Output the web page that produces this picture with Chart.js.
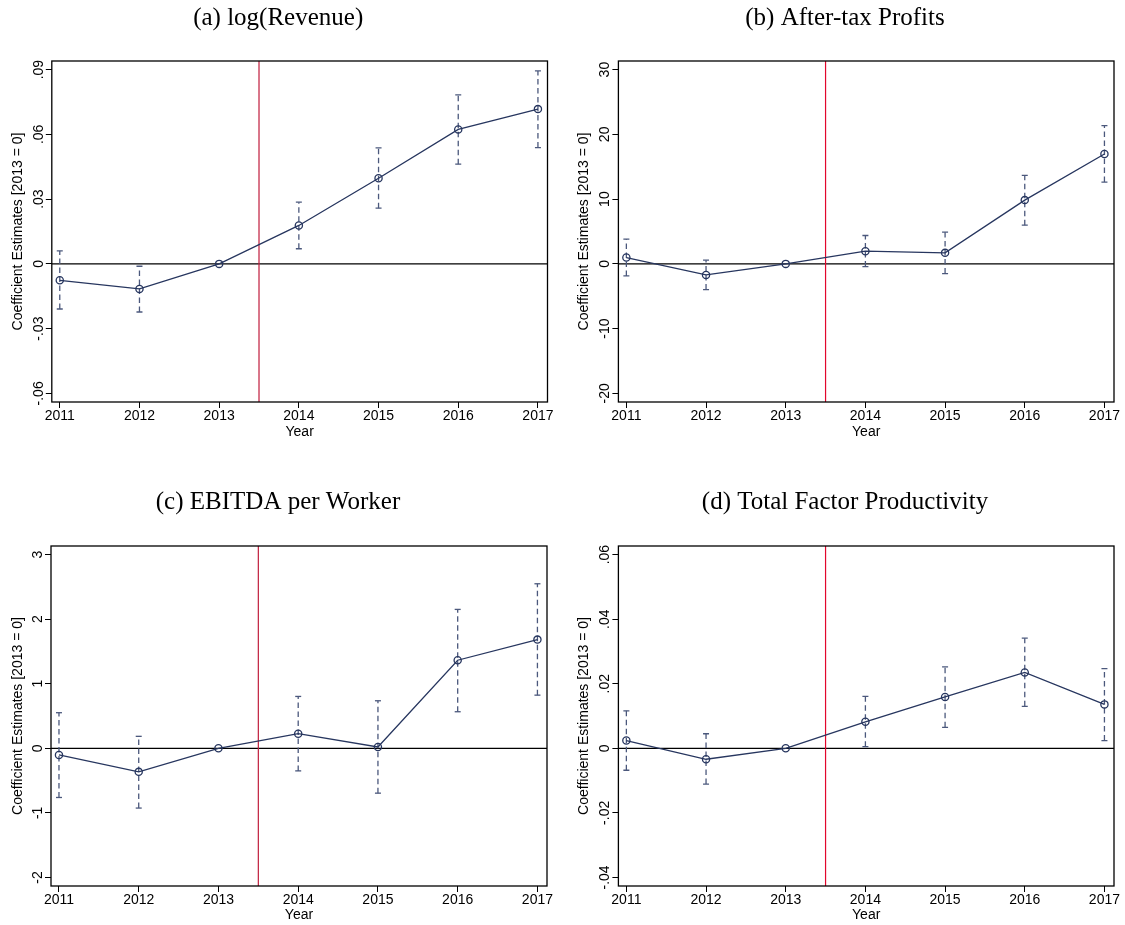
<!DOCTYPE html>
<html>
<head>
<meta charset="utf-8">
<title>Event study estimates</title>
<script src="https://cdn.jsdelivr.net/npm/chart.js"></script>
<style>
  body { margin: 0; background: #fff; }
  canvas { position: absolute; }
</style>
</head>
<body>
<canvas id="chartA" width="565" height="450" style="left:0;top:0"></canvas>
<canvas id="chartB" width="560" height="450" style="left:565px;top:0"></canvas>
<canvas id="chartC" width="565" height="475" style="left:0;top:450px"></canvas>
<canvas id="chartD" width="560" height="475" style="left:565px;top:450px"></canvas>
<script>
// Years on the x axis and the treatment cut-off
const years = [2011, 2012, 2013, 2014, 2015, 2016, 2017];
const eventYear = 2013.5;

// (a) log(Revenue)
const revenueCoef = [-0.0076, -0.0116, 0, 0.0178, 0.0397, 0.0623, 0.0717];
const revenueLow = [-0.0209, -0.0223, 0, 0.0070, 0.0258, 0.0462, 0.0539];
const revenueHigh = [0.0060, -0.0011, 0, 0.0286, 0.0537, 0.0783, 0.0894];
const revenueTicks = [-0.06, -0.03, 0, 0.03, 0.06, 0.09];
const revenueTickLabels = ['-.06', '-.03', '0', '.03', '.06', '.09'];

// (b) After-tax Profits
const profitCoef = [0.98, -1.70, 0, 1.96, 1.70, 9.85, 16.96];
const profitLow = [-1.86, -3.97, 0, -0.41, -1.49, 5.98, 12.63];
const profitHigh = [3.81, 0.57, 0, 4.38, 4.90, 13.66, 21.34];
const profitTicks = [-20, -10, 0, 10, 20, 30];
const profitTickLabels = ['-20', '-10', '0', '10', '20', '30'];

// (c) EBITDA per Worker
const ebitdaCoef = [-0.103, -0.365, 0, 0.226, 0.021, 1.364, 1.683];
const ebitdaLow = [-0.762, -0.926, 0, -0.350, -0.695, 0.566, 0.823];
const ebitdaHigh = [0.551, 0.185, 0, 0.803, 0.736, 2.151, 2.548];
const ebitdaTicks = [-2, -1, 0, 1, 2, 3];
const ebitdaTickLabels = ['-2', '-1', '0', '1', '2', '3'];

// (d) Total Factor Productivity
const tfpCoef = [0.0024, -0.0034, 0, 0.0082, 0.0159, 0.0235, 0.0136];
const tfpLow = [-0.0068, -0.0111, 0, 0.0005, 0.0065, 0.0130, 0.0024];
const tfpHigh = [0.0116, 0.0045, 0, 0.0161, 0.0252, 0.0341, 0.0247];
const tfpTicks = [-0.04, -0.02, 0, 0.02, 0.04, 0.06];
const tfpTickLabels = ['-.04', '-.02', '0', '.02', '.04', '.06'];

const NAVY = '#27365f';
const CI_COLOR = '#4b587c';
const SANS = 'Liberation Sans, Arial, sans-serif';
const SERIF = 'Liberation Serif, Times New Roman, serif';

// Zero line, event line, frame and rotated y labels
const stataDecor = {
  id: 'stataDecor',
  beforeDatasetsDraw(chart, args, opts) {
    const { ctx, chartArea: a, scales: { x, y } } = chart;
    ctx.save();
    const y0 = y.getPixelForValue(0);
    ctx.strokeStyle = '#000';
    ctx.lineWidth = 1.3;
    ctx.beginPath();
    ctx.moveTo(a.left, y0);
    ctx.lineTo(a.right, y0);
    ctx.stroke();

    const xe = x.getPixelForValue(eventYear);
    ctx.strokeStyle = opts.eventColor;
    ctx.lineWidth = 1.2;
    ctx.beginPath();
    ctx.moveTo(xe, a.top);
    ctx.lineTo(xe, a.bottom);
    ctx.stroke();
    ctx.restore();
  },
  afterDraw(chart, args, opts) {
    const { ctx, chartArea: a, scales: { y } } = chart;
    ctx.save();
    ctx.strokeStyle = '#000';
    ctx.lineWidth = 1.3;
    ctx.strokeRect(a.left, a.top, a.right - a.left, a.bottom - a.top);

    ctx.fillStyle = '#000';
    ctx.font = '14px ' + SANS;
    ctx.textAlign = 'center';
    ctx.textBaseline = 'alphabetic';
    opts.ticks.forEach((v, i) => {
      ctx.save();
      ctx.translate(a.left - 9, y.getPixelForValue(v));
      ctx.rotate(-Math.PI / 2);
      ctx.fillText(opts.labels[i], 0, 0);
      ctx.restore();
    });
    ctx.restore();
  }
};

function createPanel(id, title, coef, low, high, ticks, tickLabels, box, eventColor) {
  const ctx = document.getElementById(id).getContext('2d');

  const padL = 2 * box.titleX - box.right;
  const padT = box.titleY - 15;
  const step = ticks[1] - ticks[0];
  const margin = step * 0.133;

  // main series with hollow circles
  const datasets = [{
    data: years.map((yr, i) => ({ x: yr, y: coef[i] })),
    showLine: true,
    borderColor: NAVY,
    borderWidth: 1.3,
    pointStyle: 'circle',
    pointRadius: 3.6,
    pointBorderWidth: 1.3,
    pointBorderColor: NAVY,
    pointBackgroundColor: 'rgba(0,0,0,0)'
  }];

  // dashed confidence intervals with caps
  years.forEach((yr, i) => {
    if (low[i] === high[i]) return;
    datasets.push({
      data: [{ x: yr, y: low[i] }, { x: yr, y: high[i] }],
      showLine: true,
      borderColor: CI_COLOR,
      borderWidth: 1.3,
      borderDash: [5.5, 3.5],
      pointStyle: 'line',
      pointRadius: 3,
      pointBorderWidth: 1.3,
      pointBorderColor: CI_COLOR
    });
  });

  new Chart(ctx, {
    type: 'scatter',
    data: { datasets },
    options: {
      responsive: false,
      animation: false,
      devicePixelRatio: 1,
      events: [],
      layout: {
        padding: { left: padL, right: box.width - box.right, top: padT, bottom: 0 }
      },
      plugins: {
        legend: { display: false },
        tooltip: { enabled: false },
        title: {
          display: true,
          text: title,
          color: '#000',
          font: { family: SERIF, size: 25, weight: 'normal', lineHeight: 1.2 },
          padding: { top: 0, bottom: box.top - padT - 30 }
        },
        stataDecor: { eventColor, ticks, labels: tickLabels }
      },
      scales: {
        x: {
          type: 'linear',
          min: 2010.9,
          max: 2017.12,
          afterBuildTicks: (scale) => { scale.ticks = years.map(v => ({ value: v })); },
          afterFit: (scale) => { scale.height = box.height - box.bottom; },
          ticks: {
            autoSkip: false,
            maxRotation: 0,
            padding: 0,
            color: '#000',
            font: { family: SANS, size: 14 },
            callback: (v) => String(v)
          },
          grid: { drawOnChartArea: false, drawTicks: true, tickLength: 6, color: '#000' },
          border: { display: false },
          title: {
            display: true,
            text: 'Year',
            color: '#000',
            font: { family: SANS, size: 14, lineHeight: 1.2 },
            padding: { top: 0, bottom: box.height - box.xTitleY - 8.4 }
          }
        },
        y: {
          type: 'linear',
          min: ticks[0] - margin,
          max: ticks[ticks.length - 1] + margin,
          afterBuildTicks: (scale) => { scale.ticks = ticks.map(v => ({ value: v })); },
          afterFit: (scale) => { scale.width = box.left - padL; },
          ticks: { display: false },
          grid: { drawOnChartArea: false, drawTicks: true, tickLength: 6, color: '#000' },
          border: { display: false },
          title: {
            display: true,
            text: 'Coefficient Estimates [2013 = 0]',
            color: '#000',
            font: { family: SANS, size: 14, lineHeight: 1 },
            padding: { top: Math.max(0, box.yTitleX - padL - 7), bottom: 0 }
          }
        }
      }
    },
    plugins: [stataDecor]
  });
}

// Panel frames in canvas coordinates
const boxTop = { width: 565, height: 450, left: 51.8, right: 547.5, top: 61, bottom: 402, titleX: 278.2, titleY: 18, yTitleX: 17.9, xTitleY: 432 };
const boxTopRight = { width: 560, height: 450, left: 53.4, right: 549, top: 61, bottom: 402, titleX: 280, titleY: 18, yTitleX: 19.5, xTitleY: 432 };
const boxBottom = { width: 565, height: 475, left: 51, right: 547, top: 96, bottom: 436, titleX: 278, titleY: 52, yTitleX: 17.9, xTitleY: 465 };
const boxBottomRight = { width: 560, height: 475, left: 53.4, right: 549, top: 96, bottom: 436, titleX: 280, titleY: 52, yTitleX: 19.5, xTitleY: 465 };

createPanel('chartA', '(a) log(Revenue)', revenueCoef, revenueLow, revenueHigh, revenueTicks, revenueTickLabels, boxTop, '#c01c3c');
createPanel('chartB', '(b) After-tax Profits', profitCoef, profitLow, profitHigh, profitTicks, profitTickLabels, boxTopRight, '#e2062c');
createPanel('chartC', '(c) EBITDA per Worker', ebitdaCoef, ebitdaLow, ebitdaHigh, ebitdaTicks, ebitdaTickLabels, boxBottom, '#c01c3c');
createPanel('chartD', '(d) Total Factor Productivity', tfpCoef, tfpLow, tfpHigh, tfpTicks, tfpTickLabels, boxBottomRight, '#e2062c');
</script>
</body>
</html>
